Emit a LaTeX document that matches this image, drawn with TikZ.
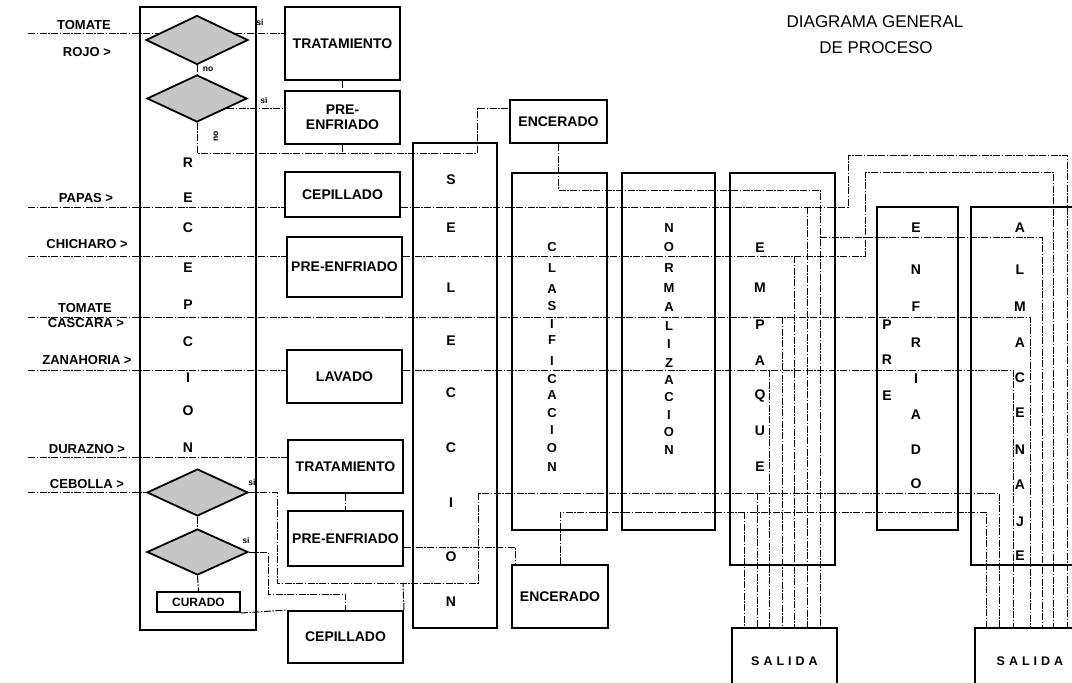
\documentclass[tikz,border=0pt]{standalone}
\usepackage{fontspec}
\setmainfont{Liberation Sans}
\usetikzlibrary{shapes.geometric,calc}
\begin{document}
\begin{tikzpicture}[x=1pt,y=-1pt,
  box/.style={draw, line width=2pt, inner sep=0pt, align=center, font=\fontsize{14}{15}\selectfont\bfseries},
  col/.style={draw, line width=2pt, inner sep=0pt},
  dia/.style={draw, diamond, line width=1.8pt, fill=gray!45, inner sep=0pt},
  flow/.style={line width=1pt, dash pattern=on 7pt off 1.5pt on 1.5pt off 1.5pt},
  lab/.style={font=\fontsize{13}{14}\selectfont\bfseries, inner sep=0pt},
  ltr/.style={font=\fontsize{14}{14}\selectfont\bfseries, inner sep=0pt},
  ltrs/.style={font=\fontsize{13}{13}\selectfont\bfseries, inner sep=0pt},
  tinylab/.style={font=\fontsize{8.5}{8.5}\selectfont\bfseries, inner sep=0pt}]
\useasboundingbox (0,0) rectangle (1072,683);
\clip (0,0) rectangle (1072,683);

% title
\node[font=\fontsize{17}{20}\selectfont] (title1) at (875,22) {DIAGRAMA GENERAL};
\node[font=\fontsize{17}{20}\selectfont] (title2) at (876,48) {DE PROCESO};

% input labels
\node[lab] (l1a) at (84,25) {TOMATE};
\node[lab] (l1b) at (87,52) {ROJO >};
\node[lab] (l2) at (86,198) {PAPAS >};
\node[lab] (l3) at (87,244) {CHICHARO >};
\node[lab] (l4a) at (85,308) {TOMATE};
\node[lab] (l4b) at (86,323) {CASCARA >};
\node[lab] (l5) at (87,360) {ZANAHORIA >};
\node[lab] (l6) at (87,449) {DURAZNO >};
\node[lab] (l7) at (87,484) {CEBOLLA >};

% big column boxes
\node[col, minimum width=116pt, minimum height=623pt] (rec) at (198,318.5) {};
\node[col, minimum width=84pt, minimum height=485pt] (sel) at (455,385.5) {};
\node[col, minimum width=95pt, minimum height=357pt] (cla) at (559.5,351.5) {};
\node[col, minimum width=93pt, minimum height=357pt] (nor) at (668.5,351.5) {};
\node[col, minimum width=105pt, minimum height=392pt] (emp) at (782.5,369) {};
\node[col, minimum width=81pt, minimum height=323pt] (enf) at (917.5,368.5) {};
\node[col, minimum width=119pt, minimum height=358pt] (alm) at (1030.5,386) {};

% letters in columns
\foreach \l/\y in {R/163,E/198,C/228,E/268,P/305,C/342,I/378,O/411,N/448}
  \node[ltr] (rec-\y) at (188,\y) {\l};
\foreach \l/\y in {S/180,E/228,L/288,E/341,C/393,C/448,I/503,O/557,N/602}
  \node[ltr] (sel-\y) at (451,\y) {\l};
\foreach \l/\y in {C/247,L/268,A/289,S/306,I/324,F/340,I/361,C/379,A/395,C/413,I/430,O/448,N/467}
  \node[ltrs] (cla-\y) at (552,\y) {\l};
\foreach \l/\y in {N/228,O/247,R/268,M/288,A/307,L/326,I/344,Z/363,A/380,C/397,I/415,O/432,N/450}
  \node[ltrs] (nor-\y) at (669,\y) {\l};
\foreach \l/\y in {E/248,M/288,P/325,A/361,Q/396,U/431,E/467}
  \node[ltr] (emp-\y) at (760,\y) {\l};
\foreach \l/\y in {E/228,N/270,F/307,R/343,I/379,A/415,D/450,O/484}
  \node[ltr] (enf-\y) at (916,\y) {\l};
\foreach \l/\y in {P/325,R/360,E/396}
  \node[ltr] (pre-\y) at (887,\y) {\l};
\foreach \l/\y in {A/228,L/270,M/307,A/343,C/378,E/413,N/450,A/485,J/522,E/556}
  \node[ltr] (alm-\y) at (1020,\y) {\l};

% process boxes
\node[box, minimum width=115pt, minimum height=73pt] (tr1) at (342.5,43.5) {TRATAMIENTO};
\node[box, minimum width=115pt, minimum height=53pt] (pe1) at (342.5,117.5) {PRE-\\ENFRIADO};
\node[box, minimum width=115pt, minimum height=45pt] (ce1) at (342.5,194.5) {CEPILLADO};
\node[box, minimum width=115pt, minimum height=60pt] (pe2) at (344.5,267) {PRE-ENFRIADO};
\node[box, minimum width=115pt, minimum height=53pt] (lav) at (344.5,376.5) {LAVADO};
\node[box, minimum width=115pt, minimum height=53pt] (tr2) at (345.5,466.5) {TRATAMIENTO};
\node[box, minimum width=115pt, minimum height=55pt] (pe3) at (345.5,538.5) {PRE-ENFRIADO};
\node[box, minimum width=115pt, minimum height=52pt] (ce2) at (345.5,637) {CEPILLADO};
\node[box, minimum width=83pt, minimum height=20pt, font=\fontsize{12}{12}\selectfont\bfseries] (cur) at (198.5,602) {CURADO};
\node[box, minimum width=97pt, minimum height=43pt] (en1) at (558.5,121.5) {ENCERADO};
\node[box, minimum width=96pt, minimum height=63pt] (en2) at (560,596.5) {ENCERADO};
\node[box, minimum width=105pt, minimum height=67pt, font=\fontsize{12.5}{13}\selectfont\bfseries] (sal1) at (784.5,661.5) {S\hspace{4pt}A\hspace{4pt}L\hspace{4pt}I\hspace{4pt}D\hspace{4pt}A};
\node[box, minimum width=110pt, minimum height=67pt, font=\fontsize{12.5}{13}\selectfont\bfseries] (sal2) at (1030,661.5) {S\hspace{4pt}A\hspace{4pt}L\hspace{4pt}I\hspace{4pt}D\hspace{4pt}A};

% decision diamonds
\node[dia, minimum width=102pt, minimum height=49pt] (d1) at (197,40) {};
\node[dia, minimum width=100pt, minimum height=47pt] (d2) at (197,98.5) {};
\node[dia, minimum width=101pt, minimum height=47pt] (d3) at (197.5,492.5) {};
\node[dia, minimum width=101pt, minimum height=46pt] (d4) at (197.5,552) {};

% small labels
\node[tinylab] (s1) at (260,22) {si};
\node[tinylab] (n1) at (208,69) {no};
\node[tinylab] (s2) at (264,100) {si};
\node[tinylab, rotate=90] (n2) at (216,136) {no};
\node[tinylab] (s3) at (252,482) {si};
\node[tinylab] (s4) at (246,540) {si};

% input coordinates
\coordinate (in1) at (28,33);
\coordinate (in2) at (28,207);
\coordinate (in3) at (28,256);
\coordinate (in4) at (28,317);
\coordinate (in5) at (28,370);
\coordinate (in6) at (28,457);
\coordinate (in7) at (28,492.5);
\coordinate (j1) at (477,153);

% flows - top
\draw[flow] (in1) -- (in1 -| d1.170);
\draw[flow] (d1.10) -- (d1.10 -| tr1.west);
\draw[flow] (d1.south) -- (d2.north);
\draw[flow] (tr1.south) -- (pe1.north);
\draw[flow] (d2.-18) -- (d2.-18 -| pe1.west);
\draw[flow] (d2.south) |- (j1) |- ([yshift=13.5pt]en1.west);
\draw[flow] (pe1.south) -- (pe1.south |- j1);
\draw[flow] (en1.south) |- (820,190) -- (820,0 |- sal1.north);
\draw[flow] (820,237) -| (1042,0 |- sal2.north);

% papas
\draw[flow] (in2) -- (in2 -| ce1.west);
\draw[flow] (in2 -| ce1.east) -- (848,207) |- (1067,155) -- (1067,0 |- sal2.north);
\draw[flow] (807,207) -- (807,0 |- sal1.north);

% chicharo
\draw[flow] (in3) -- (in3 -| pe2.west);
\draw[flow] (in3 -| pe2.east) -- (865,256) |- (1053,172) -- (1053,0 |- sal2.north);
\draw[flow] (794,256) -- (794,0 |- sal1.north);

% tomate cascara
\draw[flow] (in4) -- (1030,317) -- (1030,0 |- sal2.north);
\draw[flow] (782,317) -- (782,0 |- sal1.north);

% zanahoria
\draw[flow] (in5) -- (in5 -| lav.west);
\draw[flow] (in5 -| lav.east) -- (1013,370) -- (1013,0 |- sal2.north);
\draw[flow] (769,370) -- (769,0 |- sal1.north);

% durazno
\draw[flow] (in6) -- (in6 -| tr2.west);
\draw[flow] (tr2.south) -- (pe3.north);
\draw[flow] ([yshift=-8.5pt]pe3.east) -| ([xshift=-45pt]en2.north);
\draw[flow] (en2.north) |- (986,512) -- (986,0 |- sal2.north);
\draw[flow] (744,512) -- (744,0 |- sal1.north);

% cebolla
\draw[flow] (in7) -- (in7 -| d3.west);
\draw[flow] (d3.east) -- (277,492.5) |- (478,583) |- (999,493) -- (999,0 |- sal2.north);
\draw[flow] (757,493) -- (757,0 |- sal1.north);
\draw[flow] (d3.south) -- (d4.north);
\draw[flow] (d4.east) -| (268,594) -| (ce2.north);
\draw[flow] (d4.south) -- (cur.north);
\draw[flow] (cur.south east) -- (ce2.north west);
\draw[flow] (ce2.north east) -- (403,583);
\end{tikzpicture}
\end{document}
